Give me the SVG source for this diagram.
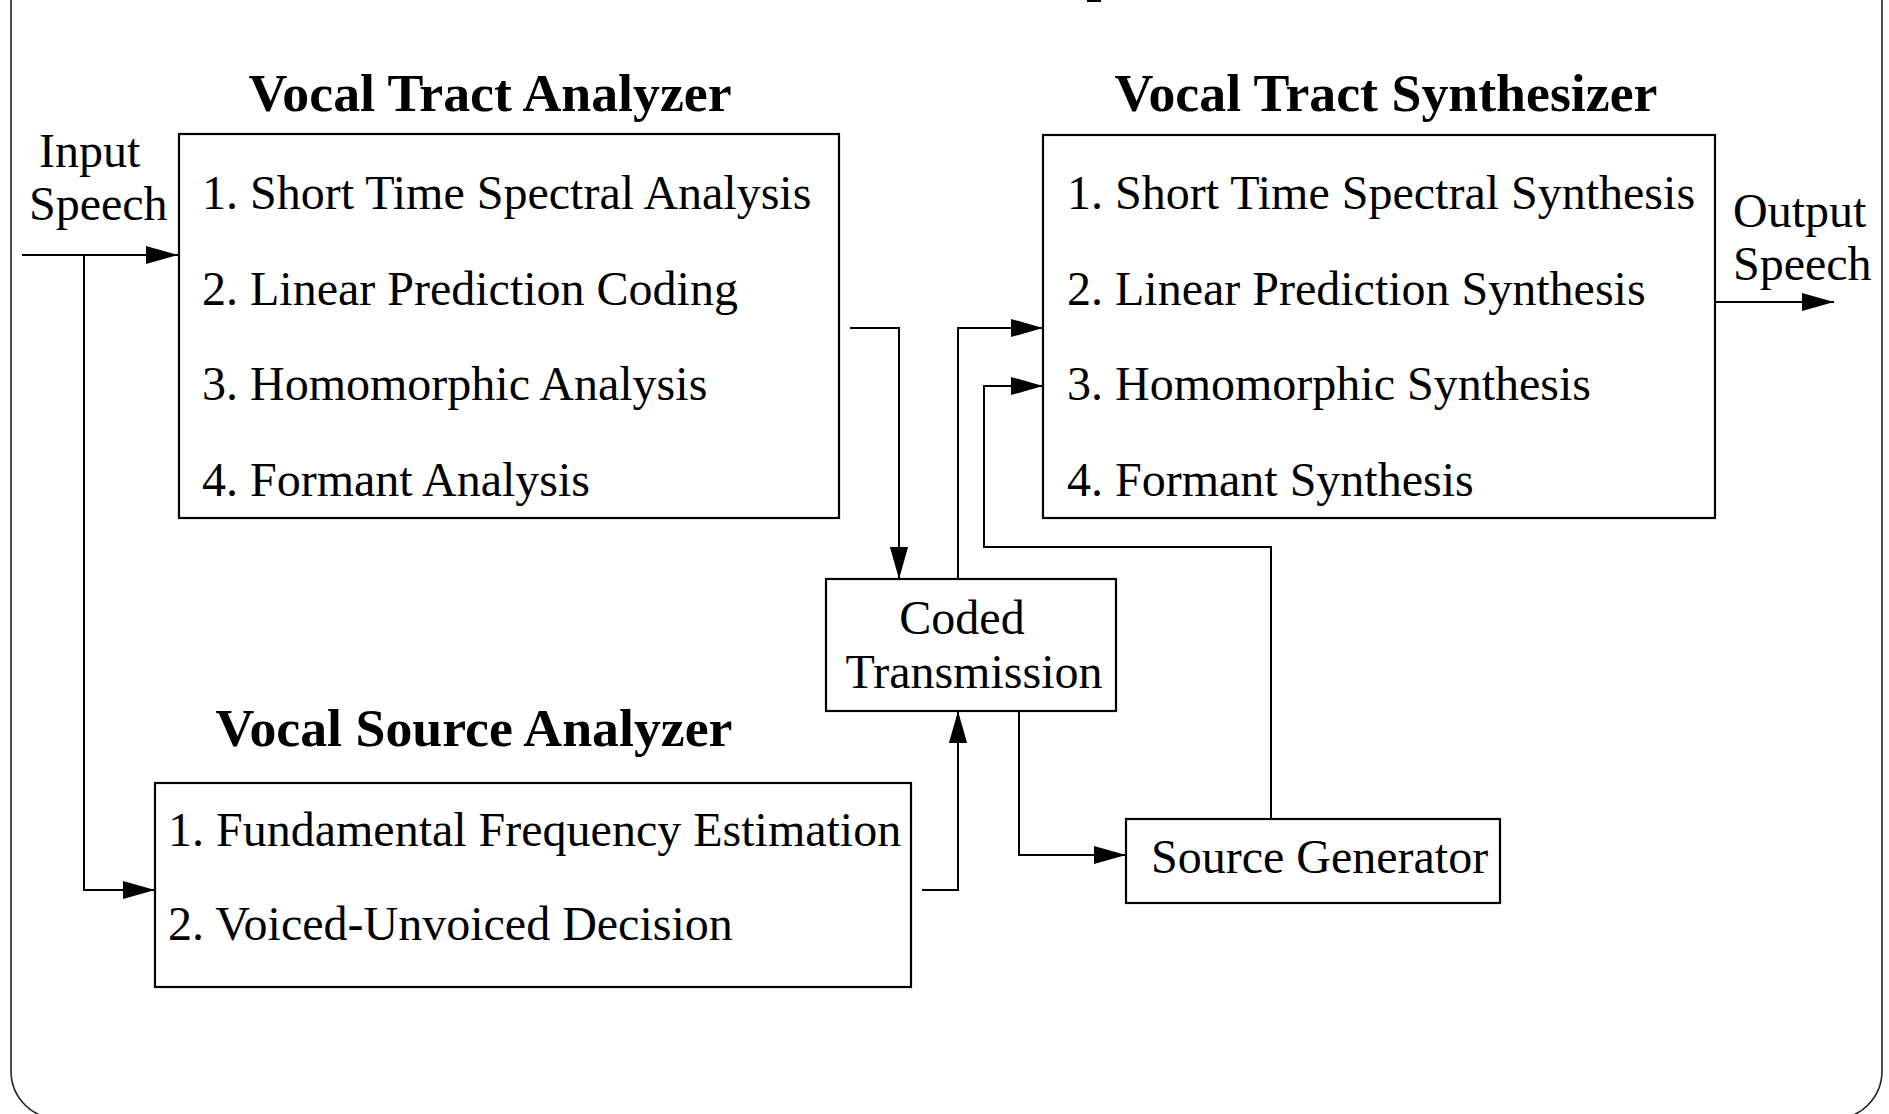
<svg xmlns="http://www.w3.org/2000/svg" width="1889" height="1114" viewBox="0 0 1889 1114">
<defs>
<marker id="arr" markerUnits="userSpaceOnUse" markerWidth="32" markerHeight="20" viewBox="0 0 30 17" refX="30" refY="8.5" orient="auto">
<polygon points="0,0 30,8.5 0,17" fill="#000"/>
</marker>
<style>
.box{fill:#fff;stroke:#000;stroke-width:2.2}
.t{font-family:"Liberation Serif","Times New Roman",serif;font-size:48px;fill:#000}
.h{font-family:"Liberation Serif","Times New Roman",serif;font-size:53.8px;font-weight:bold;fill:#000;text-anchor:middle}
.ca{fill:none;stroke:#000;stroke-width:2;marker-end:url(#arr)}
</style>
</defs>
<rect width="1889" height="1114" fill="#fff"/>
<path d="M11,0 V1071 A48,48 0 0 0 59,1119 H1834 A48,48 0 0 0 1882,1071 V0" fill="none" stroke="#222" stroke-width="1.6"/>
<rect x="1087" y="0" width="14" height="2" fill="#000"/>

<g id="connectors">
<path class="ca" d="M22,255 H178"/>
<path class="ca" d="M84,255 V890 H155"/>
<path class="ca" d="M850,328 H899 V579"/>
<path class="ca" d="M958,579 V328 H1043"/>
<path class="ca" d="M922,890 H958 V711"/>
<path class="ca" d="M1019,711 V855 H1126"/>
<path class="ca" d="M1271,819 V547 H984 V386 H1043"/>
<path class="ca" d="M1715,302 H1834"/>
</g>

<g id="input-label">
<text class="t" x="39" y="167">Input</text>
<text class="t" x="29" y="220">Speech</text>
</g>
<g id="output-label">
<text class="t" x="1733" y="227">Output</text>
<text class="t" x="1733" y="280">Speech</text>
</g>

<g id="vocal-tract-analyzer">
<text class="h" x="490" y="111">Vocal Tract Analyzer</text>
<rect class="box" x="179" y="134" width="660" height="384"/>
<text class="t" x="202" y="209">1. Short Time Spectral Analysis</text>
<text class="t" x="202" y="305">2. Linear Prediction Coding</text>
<text class="t" x="202" y="400">3. Homomorphic Analysis</text>
<text class="t" x="202" y="496">4. Formant Analysis</text>
</g>

<g id="vocal-tract-synthesizer">
<text class="h" x="1386" y="111">Vocal Tract Synthesizer</text>
<rect class="box" x="1043" y="135" width="672" height="383"/>
<text class="t" x="1067" y="209">1. Short Time Spectral Synthesis</text>
<text class="t" x="1067" y="305">2. Linear Prediction Synthesis</text>
<text class="t" x="1067" y="400">3. Homomorphic Synthesis</text>
<text class="t" x="1067" y="496">4. Formant Synthesis</text>
</g>

<g id="vocal-source-analyzer">
<text class="h" x="474" y="746">Vocal Source Analyzer</text>
<rect class="box" x="155" y="783" width="756" height="204"/>
<text class="t" x="168" y="846">1. Fundamental Frequency Estimation</text>
<text class="t" x="168" y="940">2. Voiced-Unvoiced Decision</text>
</g>

<g id="coded-transmission">
<rect class="box" x="826" y="579" width="290" height="132"/>
<text class="t" x="962" y="634" text-anchor="middle">Coded</text>
<text class="t" x="974" y="688" text-anchor="middle">Transmission</text>
</g>

<g id="source-generator">
<rect class="box" x="1126" y="819" width="374" height="84"/>
<text class="t" x="1151" y="873">Source Generator</text>
</g>
</svg>
